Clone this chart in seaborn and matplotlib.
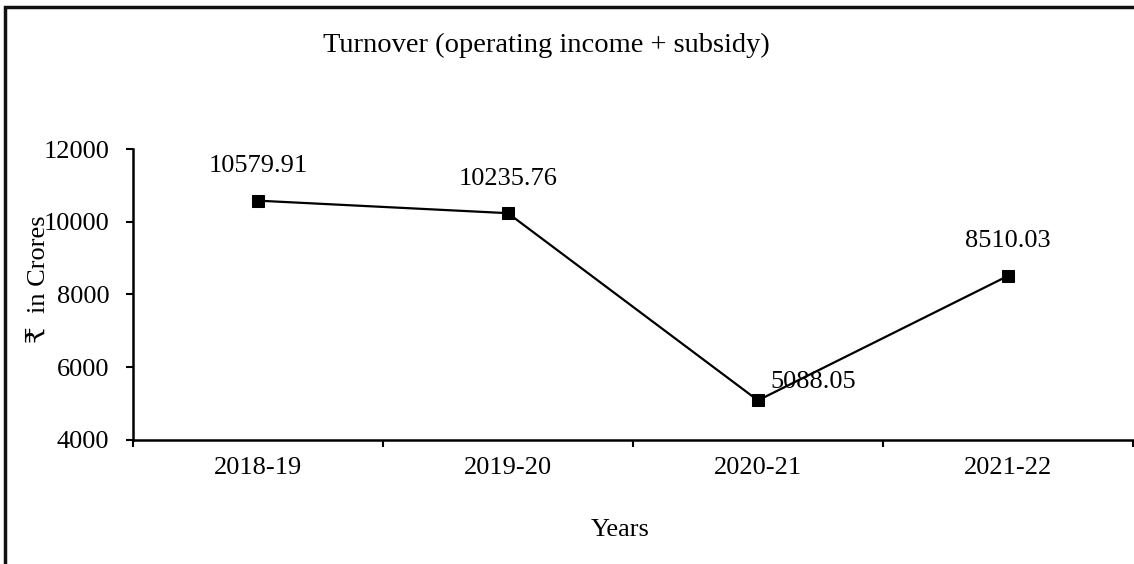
import matplotlib
matplotlib.use("Agg")
import matplotlib.pyplot as plt
import matplotlib.patches as patches
import pandas as pd
import seaborn as sns

# Dados
years = ["2018-19", "2019-20", "2020-21", "2021-22"]
turnover = [10579.91, 10235.76, 5088.05, 8510.03]
y_ticks = [4000, 6000, 8000, 10000, 12000]

df = pd.DataFrame({"pos": range(len(years)), "value": turnover})

sns.set_style("white")
plt.rcParams["font.family"] = ["Liberation Serif", "DejaVu Serif", "DejaVu Sans"]
plt.rcParams["text.color"] = "black"
plt.rcParams["xtick.color"] = "black"
plt.rcParams["ytick.color"] = "black"

fig = plt.figure(figsize=(11.34, 5.64), dpi=100)
ax = fig.add_axes([0.1173, 0.2199, 0.8817, 0.5159])

sns.lineplot(data=df, x="pos", y="value", ax=ax, color="black", linewidth=1.6,
             marker="s", markersize=9, markeredgecolor="black")

# Rótulos dos pontos
offsets = [(0, 17, "center"), (0, 17, "center"), (9, 5, "left"), (0, 17, "center")]
for i, v in enumerate(turnover):
    dx, dy, ha = offsets[i]
    ax.annotate(f"{v:.2f}", (i, v), xytext=(dx, dy), textcoords="offset points",
                ha=ha, va="bottom", fontsize=19)

# Eixos
ax.set_xlim(-0.5, len(years) - 0.5)
ax.set_ylim(4000, 12000)
ax.set_yticks(y_ticks)
ax.set_yticklabels([str(t) for t in y_ticks], fontsize=19)
ax.set_xticks([i - 0.5 for i in range(len(years) + 1)])
ax.set_xticklabels([])
ax.set_xticks(range(len(years)), minor=True)
ax.set_xticklabels(years, minor=True, fontsize=19)
ax.tick_params(axis="x", which="minor", length=0, pad=12)
ax.tick_params(axis="y", which="major", pad=12)
ax.tick_params(axis="both", which="major", direction="out", length=5, width=1.5,
               color="black", left=True, bottom=True)
for side in ["top", "right"]:
    ax.spines[side].set_visible(False)
for side in ["left", "bottom"]:
    ax.spines[side].set_color("black")
    ax.spines[side].set_linewidth(1.8)
ax.set_xlabel("")
ax.set_ylabel("")

fig.text(0.482, 0.92, "Turnover (operating income + subsidy)", ha="center", va="center",
         fontsize=20.5)
fig.text(0.034, 0.505, "₹  in Crores", ha="center", va="center", rotation=90,
         fontsize=19)
fig.text(0.547, 0.06, "Years", ha="center", va="center", fontsize=19)

# Moldura
frame = patches.Rectangle((5 / 1134, -0.05), 1.2, 1 - 7 / 564 + 0.05,
                          transform=fig.transFigure, fill=False,
                          edgecolor="#111111", linewidth=2.5, clip_on=False)
fig.patches.append(frame)

fig.savefig("out.png", dpi=100)
